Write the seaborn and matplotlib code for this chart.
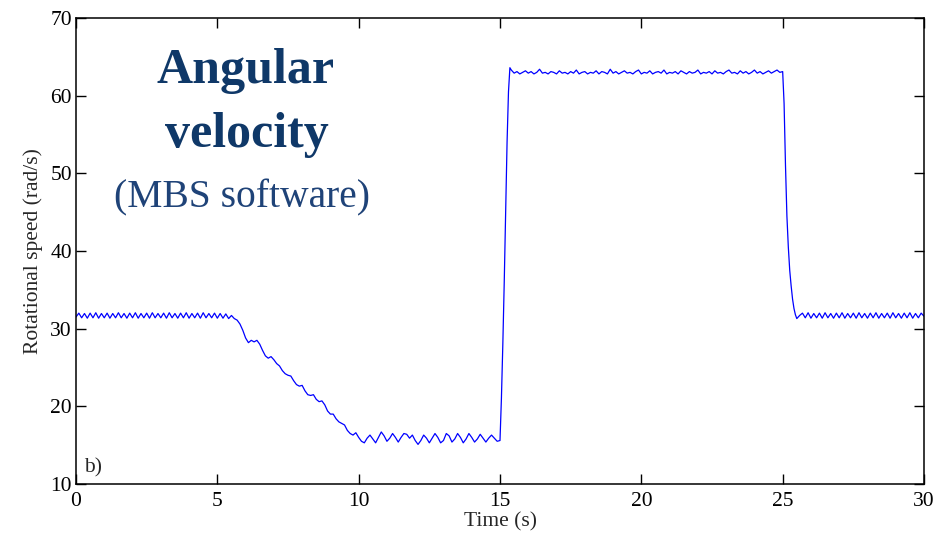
import numpy as np
import pandas as pd
import matplotlib
matplotlib.use("Agg")
import matplotlib.pyplot as plt
import seaborn as sns

# ---------------- data ----------------
# each segment: start time (s), sampling step (s), speed values (rad/s)
initial_start, initial_step = 0.0, 0.1
speed_initial = [31.5, 32.0, 31.4, 31.95, 31.35, 32.0, 31.4, 32.05, 31.35, 31.95,
                 31.4, 32.0, 31.35, 31.95, 31.4, 32.05, 31.4, 31.95, 31.35, 32.0,
                 31.4, 32.05, 31.35, 31.95, 31.4, 32.0, 31.35, 32.05, 31.4, 31.95,
                 31.4, 32.0, 31.35, 32.05, 31.4, 31.95, 31.35, 32.0, 31.4, 32.05,
                 31.35, 31.95, 31.4, 32.0, 31.35, 32.05, 31.4, 31.95, 31.4, 32.0,
                 31.35, 31.95, 31.35, 31.9, 31.3, 31.7]

decel_start, decel_step = 5.6, 0.1
speed_decel = [31.3, 31.1, 30.6, 29.8, 28.8, 28.2, 28.5, 28.3, 28.5, 28.0,
               27.2, 26.5, 26.2, 26.4, 26.0, 25.5, 25.2, 24.6, 24.2, 24.0,
               23.9, 23.3, 22.8, 22.6, 22.7, 22.0, 21.5, 21.4, 21.5, 20.9,
               20.6, 20.7, 20.2, 19.4, 19.0, 19.0, 18.4, 18.0, 17.8, 17.6,
               16.9, 16.5, 16.3, 16.6, 16.0, 15.5]

low_start, low_step = 10.2, 0.1
speed_low = [15.3, 15.9, 16.3, 15.8, 15.3, 16.0, 16.7, 16.2, 15.5, 15.9,
             16.5, 16.0, 15.4, 16.0, 16.5, 16.4, 15.9, 16.3, 15.6, 15.1,
             15.6, 16.3, 15.9, 15.3, 15.9, 16.5, 16.0, 15.3, 15.6, 16.5,
             16.2, 15.4, 15.8, 16.5, 16.0, 15.3, 15.8, 16.5, 16.0, 15.4,
             15.8, 16.4, 15.9, 15.4, 15.9, 16.3, 15.9, 15.5, 15.6]

rise_start, rise_step = 15.05, 0.05
speed_rise = [21.0, 28.0, 36.0, 45.0, 54.0, 60.5, 63.6]

high_start, high_step = 15.4, 0.1
speed_high = [63.3, 62.9, 63.1, 62.8, 63.0, 63.2, 62.9, 63.1, 62.8, 63.0,
              63.4, 62.9, 63.0, 62.8, 63.1, 63.0, 62.8, 63.2, 62.9, 63.0,
              62.8, 63.1, 62.9, 63.3, 62.8, 63.0, 63.1, 62.8, 63.0, 62.9,
              63.2, 62.8, 63.1, 63.0, 62.8, 63.4, 62.9, 63.1, 62.8, 63.0,
              63.2, 62.9, 63.0, 62.8, 63.1, 63.3, 62.8, 63.0, 62.9, 63.2,
              62.8, 63.0, 63.1, 62.9, 63.3, 62.8, 63.0, 62.9, 63.1, 62.8,
              63.2, 63.0, 62.8, 63.1, 62.9, 63.0, 63.3, 62.8, 63.0, 62.9,
              63.1, 62.8, 63.2, 62.9, 63.0, 62.8, 63.1, 63.3, 62.9, 63.0,
              62.8, 63.2, 62.9, 63.1, 62.8, 63.0, 63.3, 62.9, 63.1, 62.8,
              63.0, 63.2, 62.9, 63.1, 63.3, 63.0]

fall_start, fall_step = 25.0, 0.05
speed_fall = [63.1, 59.0, 51.0, 44.5, 40.5, 37.5, 35.5, 33.8, 32.6, 31.8, 31.3]

final_start, final_step = 25.6, 0.1
speed_final = [31.7, 32.0, 31.4, 32.05, 31.35, 31.95, 31.4, 32.0, 31.35, 32.05,
               31.4, 31.95, 31.35, 32.0, 31.4, 32.05, 31.35, 31.95, 31.4, 32.0,
               31.35, 32.05, 31.4, 31.95, 31.35, 32.0, 31.4, 32.05, 31.35, 31.95,
               31.4, 32.0, 31.35, 32.05, 31.4, 31.95, 31.35, 32.0, 31.4, 32.05,
               31.35, 31.95, 31.4, 32.0, 31.6]

x_ticks = [0, 5, 10, 15, 20, 25, 30]
y_ticks = [10, 20, 30, 40, 50, 60, 70]

segments = [(initial_start, initial_step, speed_initial),
            (decel_start, decel_step, speed_decel),
            (low_start, low_step, speed_low),
            (rise_start, rise_step, speed_rise),
            (high_start, high_step, speed_high),
            (fall_start, fall_step, speed_fall),
            (final_start, final_step, speed_final)]

times, speeds = [], []
for start, step, vals in segments:
    times.extend(start + step * np.arange(len(vals)))
    speeds.extend(vals)
df = pd.DataFrame({"time": times, "speed": speeds})

# ---------------- plotting ----------------
sns.set_style("ticks")
plt.rcParams["font.family"] = ["Liberation Serif", "DejaVu Serif"]

fig = plt.figure(figsize=(9.43, 5.39), dpi=100)
ax = fig.add_axes([76 / 943, 1 - 484 / 539, (924 - 76) / 943, (484 - 18) / 539])

sns.lineplot(data=df, x="time", y="speed", ax=ax, color="#0000ff",
             linewidth=0.9, sort=False, estimator=None)

ax.set_xlim(0, 30)
ax.set_ylim(10, 70)
ax.set_xticks(x_ticks)
ax.set_yticks(y_ticks)
ax.tick_params(direction="in", length=7, width=1, top=True, right=True,
               labelsize=15.5, colors="black")
ax.tick_params(axis="x", pad=6)
ax.tick_params(axis="y", pad=3)
for s in ax.spines.values():
    s.set_visible(True)
    s.set_linewidth(1.1)
    s.set_color("black")

ax.set_xlabel("Time (s)", fontsize=15.5, labelpad=1)
ax.set_ylabel("Rotational speed (rad/s)", fontsize=15.5, labelpad=5)

ax.text(0.01, 0.015, "b)", transform=ax.transAxes, fontsize=15.5,
        ha="left", va="bottom")

title_color = "#0f3868"
fig.text(246 / 943, 1 - 83 / 539, "Angular", fontsize=36, fontweight="bold",
         color=title_color, ha="center", va="baseline")
fig.text(247 / 943, 1 - 147 / 539, "velocity", fontsize=36, fontweight="bold",
         color=title_color, ha="center", va="baseline")
fig.text(242 / 943, 1 - 207 / 539, "(MBS software)", fontsize=28.5,
         color="#1f4378", ha="center", va="baseline")

fig.savefig("out.png", dpi=100)
